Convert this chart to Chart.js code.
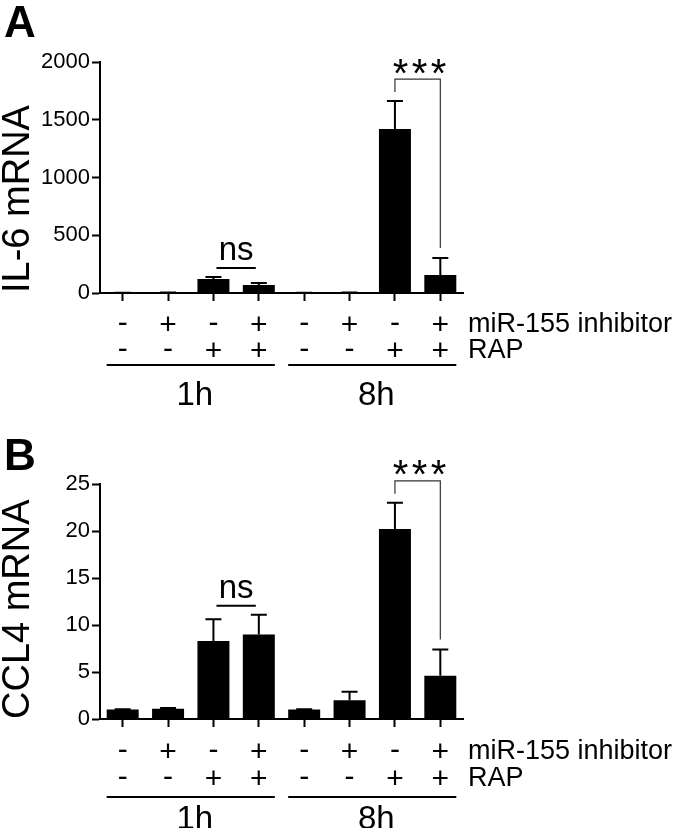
<!DOCTYPE html>
<html>
<head>
<meta charset="utf-8">
<title>IL-6 and CCL4 mRNA</title>
<script src="https://cdn.jsdelivr.net/npm/chart.js@4.4.1/dist/chart.umd.min.js"></script>
<style>
    body { margin: 0; background: #fff; }
    canvas { display: block; }
</style>
</head>
<body>
<canvas id="il6Chart" width="678" height="414"></canvas>
<canvas id="ccl4Chart" width="678" height="414"></canvas>
<script>
// Conditions (one bar each)
const conditions = ['1h ctrl', '1h inh', '1h RAP', '1h inh+RAP', '8h ctrl', '8h inh', '8h RAP', '8h inh+RAP'];
const inhibitorRow = ['-', '+', '-', '+', '-', '+', '-', '+'];
const rapRow = ['-', '-', '+', '+', '-', '-', '+', '+'];
const rowLabels = ['miR-155 inhibitor', 'RAP'];
const timeGroups = ['1h', '8h'];
const groupMembers = [[0, 3], [4, 7]];

// Panel A
const il6Mean = [1, 4, 121, 69, 1, 3, 1420, 156];
const il6Err = [1, 1, 18, 18, 1, 1, 242, 147];
const il6Ticks = [0, 500, 1000, 1500, 2000];
const il6Sig = [
    { from: 2, to: 3, label: 'ns' },
    { from: 6, to: 7, label: '***' }
];

// Panel B
const ccl4Mean = [1.0, 1.1, 8.3, 9.0, 1.0, 2.0, 20.2, 4.6];
const ccl4Err = [0.05, 0.08, 2.3, 2.1, 0.05, 0.9, 2.8, 2.8];
const ccl4Ticks = [0, 5, 10, 15, 20, 25];
const ccl4Sig = [
    { from: 2, to: 3, label: 'ns' },
    { from: 6, to: 7, label: '***' }
];

const FONT = '"Liberation Sans", Arial, Helvetica, sans-serif';

// draw text so that its ink is vertically centered on cy
function inkCentered(ctx, text, x, cy) {
    const m = ctx.measureText(text);
    ctx.fillText(text, x, cy + (m.actualBoundingBoxAscent - m.actualBoundingBoxDescent) / 2);
}

const figurePlugin = {
    id: 'figure',
    afterDatasetsDraw(chart, args, opts) {
        const ctx = chart.ctx;
        const y = chart.scales.y;
        const bars = chart.getDatasetMeta(0).data;
        const errTop = bars.map((b, i) => y.getPixelForValue(opts.mean[i] + opts.err[i]));

        ctx.save();
        ctx.strokeStyle = '#000';
        ctx.fillStyle = '#000';

        // Error bars (upper only)
        ctx.lineWidth = 2;
        bars.forEach((b, i) => {
            ctx.beginPath();
            ctx.moveTo(b.x, b.y);
            ctx.lineTo(b.x, errTop[i]);
            ctx.moveTo(b.x - 8, errTop[i]);
            ctx.lineTo(b.x + 8, errTop[i]);
            ctx.stroke();
        });

        // Significance marks
        opts.sig.forEach(s => {
            const xa = bars[s.from].x, xb = bars[s.to].x;
            const hi = Math.min(errTop[s.from], errTop[s.to]);
            const mid = (xa + xb) / 2;
            if (s.label === 'ns') {
                const lineY = hi - 9;
                ctx.lineWidth = 2;
                ctx.beginPath();
                ctx.moveTo(xa + 3, lineY);
                ctx.lineTo(xb - 3, lineY);
                ctx.stroke();
                ctx.font = '33px ' + FONT;
                ctx.textAlign = 'center';
                ctx.textBaseline = 'alphabetic';
                ctx.fillText(s.label, mid, lineY - 8);
            } else {
                const top = hi - 22;
                ctx.lineWidth = 1.2;
                ctx.strokeStyle = '#333';
                ctx.beginPath();
                ctx.moveTo(xa, errTop[s.from] - 9);
                ctx.lineTo(xa, top);
                ctx.lineTo(xb, top);
                ctx.lineTo(xb, errTop[s.to] - 10);
                ctx.stroke();
                ctx.strokeStyle = '#000';
                ctx.font = '40px ' + FONT;
                ctx.textAlign = 'center';
                ctx.textBaseline = 'alphabetic';
                for (let k = -1; k <= 1; k++) {
                    inkCentered(ctx, '*', mid + 2 + k * 19, top - 13);
                }
            }
        });
        ctx.restore();
    },
    afterDraw(chart, args, opts) {
        const ctx = chart.ctx;
        const area = chart.chartArea;
        const bars = chart.getDatasetMeta(0).data;
        ctx.save();
        ctx.fillStyle = '#000';
        ctx.strokeStyle = '#000';

        // Panel letter
        ctx.font = 'bold 44px ' + FONT;
        ctx.textAlign = 'left';
        ctx.textBaseline = 'alphabetic';
        ctx.fillText(opts.letter, 4, opts.letterY);

        // +/- rows
        ctx.font = '30px ' + FONT;
        ctx.textAlign = 'center';
        [inhibitorRow, rapRow].forEach((row, r) => {
            const cy = area.bottom + opts.rows[r];
            row.forEach((sign, i) => inkCentered(ctx, sign, bars[i].x, cy));
        });
        ctx.font = '27px ' + FONT;
        ctx.textAlign = 'left';
        rowLabels.forEach((label, r) => {
            ctx.fillText(label, area.right + 5, area.bottom + opts.rows[r] + 9);
        });

        // Time groups
        ctx.lineWidth = 2;
        timeGroups.forEach((g, k) => {
            const [a, b] = groupMembers[k];
            const x0 = bars[a].x - bars[a].width / 2;
            const x1 = bars[b].x + bars[b].width / 2;
            const ly = area.bottom + opts.groupLine;
            ctx.beginPath();
            ctx.moveTo(x0, ly);
            ctx.lineTo(x1, ly);
            ctx.stroke();
            ctx.font = '33px ' + FONT;
            ctx.textAlign = 'center';
            inkCentered(ctx, g, (x0 + x1) / 2 + 4, area.bottom + opts.groupLabel);
        });
        ctx.restore();
    }
};

function makePanel(canvasId, cfg) {
    const ctx = document.getElementById(canvasId);
    return new Chart(ctx, {
        type: 'bar',
        data: {
            labels: conditions,
            datasets: [{
                data: cfg.mean,
                backgroundColor: '#000',
                borderWidth: 0,
                barPercentage: 0.705,
                categoryPercentage: 1
            }]
        },
        options: {
            responsive: false,
            animation: false,
            layout: {
                padding: { top: cfg.top, right: 215, bottom: 0, left: 0 }
            },
            plugins: {
                legend: { display: false },
                tooltip: { enabled: false },
                figure: {
                    letter: cfg.letter,
                    letterY: cfg.letterY,
                    mean: cfg.mean,
                    err: cfg.err,
                    sig: cfg.sig,
                    rows: cfg.rows,
                    groupLine: cfg.groupLine,
                    groupLabel: cfg.groupLabel
                }
            },
            scales: {
                x: {
                    ticks: { display: false },
                    grid: {
                        offset: false,
                        drawOnChartArea: false,
                        drawTicks: true,
                        tickLength: 8,
                        tickWidth: 2,
                        tickColor: '#000'
                    },
                    border: { color: '#000', width: 2 },
                    afterFit(scale) { scale.height = cfg.bottomSpace; }
                },
                y: {
                    min: cfg.ticks[0],
                    max: cfg.ticks[cfg.ticks.length - 1],
                    afterBuildTicks(scale) {
                        scale.ticks = cfg.ticks.map(v => ({ value: v }));
                    },
                    ticks: {
                        color: '#000',
                        padding: 2,
                        font: { family: FONT, size: 22 },
                        callback: value => String(value)
                    },
                    grid: {
                        drawOnChartArea: false,
                        drawTicks: true,
                        tickLength: 8,
                        tickWidth: 2,
                        tickColor: '#000'
                    },
                    border: { color: '#000', width: 2 },
                    title: {
                        display: true,
                        text: cfg.yTitle,
                        align: 'start',
                        color: '#000',
                        font: { family: FONT, size: 38, lineHeight: 1 },
                        padding: { top: 0, bottom: 0 }
                    },
                    afterFit(scale) { scale.width = 100; }
                }
            }
        },
        plugins: [figurePlugin]
    });
}

document.addEventListener('DOMContentLoaded', function() {
    makePanel('il6Chart', {
        letter: 'A', letterY: 37,
        mean: il6Mean, err: il6Err, sig: il6Sig, ticks: il6Ticks,
        yTitle: 'IL-6 mRNA',
        top: 62, bottomSpace: 121,
        rows: [30, 56], groupLine: 72, groupLabel: 100
    });
    makePanel('ccl4Chart', {
        letter: 'B', letterY: 56,
        mean: ccl4Mean, err: ccl4Err, sig: ccl4Sig, ticks: ccl4Ticks,
        yTitle: 'CCL4 mRNA',
        top: 70, bottomSpace: 109,
        rows: [31, 58], groupLine: 78, groupLabel: 98
    });
});
</script>
</body>
</html>
